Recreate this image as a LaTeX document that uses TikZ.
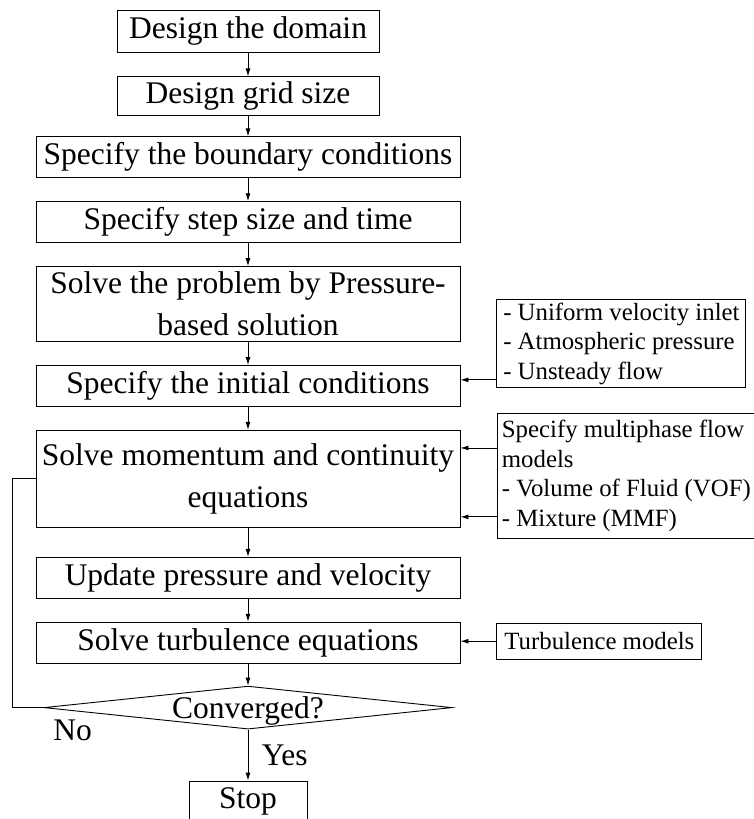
\documentclass[tikz,border=0pt]{standalone}
\usepackage{fontspec}
\setmainfont{Liberation Serif}
\usetikzlibrary{shapes.geometric, arrows.meta, positioning}

\newcommand{\boxfont}{\fontsize{31.5}{42}\selectfont}
\newcommand{\notefont}{\fontsize{24.8}{29.5}\selectfont}

\begin{document}
\begin{tikzpicture}[
    x=1pt, y=-1pt,
    node distance=23pt,
    >={Latex[length=8pt,width=5pt]},
    process/.style={rectangle, draw=black, line width=0.9pt, minimum width=424pt, minimum height=41pt, align=center, inner sep=2pt, font=\boxfont},
    decision/.style={diamond, draw=black, line width=0.9pt, aspect=9.49, inner sep=0pt, text height=0pt, text depth=0pt, minimum width=408pt, minimum height=43pt, font=\boxfont},
    note/.style={rectangle, draw=black, line width=0.9pt, align=left, inner xsep=4pt, inner ysep=3pt, font=\notefont},
    link/.style={->, line width=0.9pt}
]
\useasboundingbox (0,0) rectangle (754,819);

% Nodes
\node[process, minimum width=262pt, minimum height=42pt] (domain) at (248,31) {Design the domain};
\node[process, minimum width=262pt, minimum height=39pt, below=24pt of domain] (grid) {Design grid size};
\node[process, below=20pt of grid] (boundary) {Specify the boundary conditions};
\node[process, below=of boundary] (stepsize) {Specify step size and time};
\node[process, minimum height=75pt, below=of stepsize] (solver) {Solve the problem by Pressure-\\based solution};
\node[process, below=of solver] (initial) {Specify the initial conditions};
\node[process, minimum height=97pt, below=of initial] (momentum) {Solve momentum and continuity\\equations};
\node[process, below=29pt of momentum] (update) {Update pressure and velocity};
\node[process, below=of update] (turbulence) {Solve turbulence equations};
\node[decision, below=22pt of turbulence] (conv) {\raisebox{-10.5pt}{Converged?}};
\node[process, minimum width=118pt, minimum height=40pt, below=51pt of conv] (stop) {Stop};

% Side notes
\node[note, minimum width=249pt, minimum height=87pt, right=36pt of initial.east, yshift=42.5pt] (bcs) {- Uniform velocity inlet\\- Atmospheric pressure\\- Unsteady flow};
\node[note, minimum width=256pt, minimum height=125pt, right=37pt of momentum.east, yshift=3pt] (multiphase) {Specify multiphase flow\\models\\- Volume of Fluid (VOF)\\- Mixture (MMF)};
\node[note, align=center, minimum width=205pt, minimum height=36pt, right=36pt of turbulence.east, yshift=1.5pt] (turbmodels) {Turbulence models};

\coordinate (bcsin) at ([yshift=8pt]bcs.south west);
\coordinate (mpin1) at ([yshift=-35pt]multiphase.north west);
\coordinate (mpin2) at ([yshift=22pt]multiphase.south west);

% Links
\draw[link] (domain) -- (grid);
\draw[link] (grid) -- (boundary);
\draw[link] (boundary) -- (stepsize);
\draw[link] (stepsize) -- (solver);
\draw[link] (solver) -- (initial);
\draw[link] (initial) -- (momentum);
\draw[link] (momentum) -- (update);
\draw[link] (update) -- (turbulence);
\draw[link] (turbulence) -- (conv);
\draw[link] (conv) -- node[right, xshift=10pt, font=\boxfont] (yes) {Yes} (stop);
\draw[line width=0.9pt] (conv.west) node[below right, xshift=6pt, yshift=-8pt, font=\boxfont] (no) {No} -- ++(-31,0) |- (momentum.west);

\draw[link] (bcsin) -- (bcsin -| initial.east);
\draw[link] (mpin1) -- (mpin1 -| momentum.east);
\draw[link] (mpin2) -- (mpin2 -| momentum.east);
\draw[link] (turbmodels.west) -- (turbmodels.west -| turbulence.east);

\end{tikzpicture}
\end{document}
